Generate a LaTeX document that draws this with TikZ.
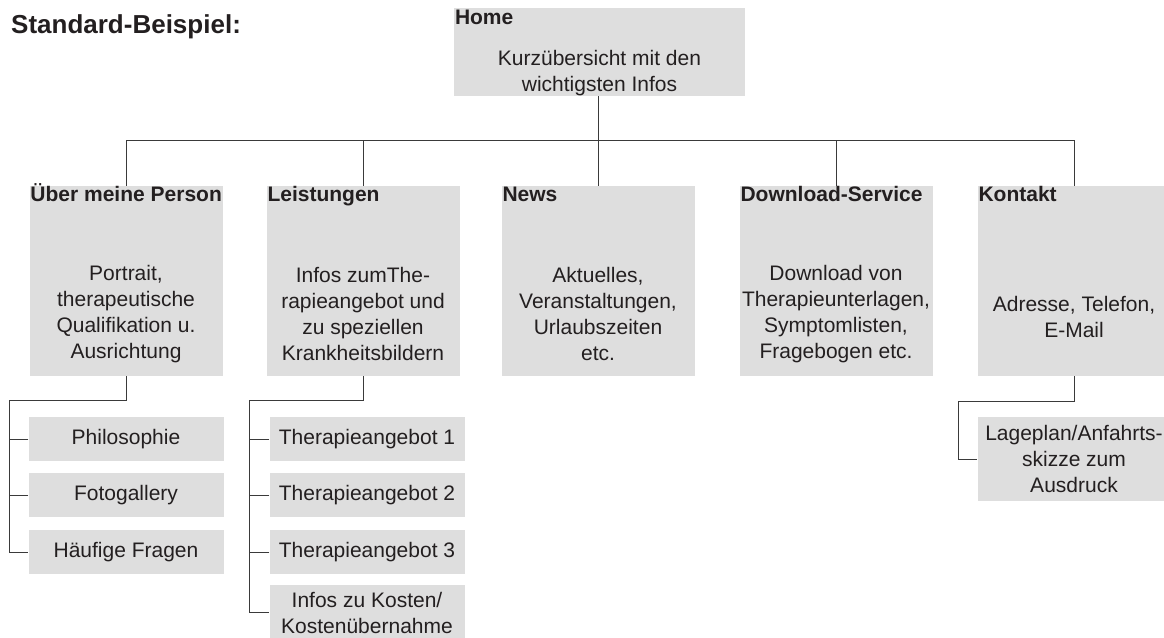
\documentclass[tikz,border=0pt]{standalone}
\usepackage{fontspec}
\setmainfont{Liberation Sans}
\definecolor{boxgray}{HTML}{DEDEDE}
\definecolor{linegray}{HTML}{3A3A3A}
\definecolor{textdark}{HTML}{231F20}

\begin{document}
\begin{tikzpicture}
                \tikzset{x=1pt, y=-1pt}
                \tikzstyle{box}=[rectangle, fill=boxgray, inner sep=0pt, text=textdark, align=center, font=\fontsize{21}{26}\selectfont, minimum width=193pt, minimum height=190pt]
                \tikzstyle{sub}=[box, minimum width=195pt, minimum height=44pt]
                \tikzstyle{head}=[anchor=base west, inner sep=0pt, text=textdark, font=\fontsize{21}{26}\selectfont\bfseries]
                \tikzstyle{txt}=[align=center, inner sep=0pt, text=textdark, font=\fontsize{21}{26}\selectfont]
                \tikzstyle{link}=[draw=linegray, line width=1pt]

                \useasboundingbox (0, 0) rectangle (1164, 637);

                \draw (11, 33)      node[anchor=base west, inner sep=0pt, text=textdark, font=\fontsize{26}{31}\selectfont\bfseries] (title) {Standard-Beispiel:};

                % Startseite
                \draw (599.5, 52)   node[box, minimum width=291pt, minimum height=88pt] (home) {};
                \draw ([xshift=1pt, yshift=-17pt]home.north west) node[head] (homeh) {Home};
                \draw (599.5, 73)   node[txt]   (homeb) {Kurzübersicht mit den\\wichtigsten Infos};

                % Hauptrubriken
                \draw (126, 281)    node[box]   (pers)  {};
                \draw (363, 281)    node[box]   (leist) {};
                \draw (598, 281)    node[box]   (news)  {};
                \draw (836, 281)    node[box]   (down)  {};
                \draw (1074, 281)   node[box]   (kont)  {};

                \draw ([xshift=1pt, yshift=-16pt]pers.north west)  node[head] (persh)  {Über meine Person};
                \draw ([xshift=1pt, yshift=-16pt]leist.north west) node[head] (leisth) {Leistungen};
                \draw ([xshift=1pt, yshift=-16pt]news.north west)  node[head] (newsh)  {News};
                \draw ([xshift=1pt, yshift=-16pt]down.north west)  node[head] (downh)  {Download-Service};
                \draw ([xshift=1pt, yshift=-16pt]kont.north west)  node[head] (konth)  {Kontakt};

                \draw (126, 314)    node[txt]   (persb)  {Portrait,\\therapeutische\\Qualifikation u.\\Ausrichtung};
                \draw (363, 314)    node[txt]   (leistb) {Infos zumThe-\\rapieangebot und\\zu speziellen\\Krankheitsbildern};
                \draw (598, 314)    node[txt]   (newsb)  {Aktuelles,\\Veranstaltungen,\\Urlaubszeiten\\etc.};
                \draw (836, 314)    node[txt]   (downb)  {Download von\\Therapieunterlagen,\\Symptomlisten,\\Fragebogen etc.};
                \draw (1074, 317)   node[txt]   (kontb)  {Adresse, Telefon,\\E-Mail};

                % Unterseiten
                \draw (126, 439)    node[sub]   (philo)  {Philosophie};
                \draw (126, 495)    node[sub]   (foto)   {Fotogallery};
                \draw (126, 552)    node[sub]   (fragen) {Häufige Fragen};

                \draw (367, 439)    node[sub]   (ta1)    {Therapieangebot 1};
                \draw (367, 495)    node[sub]   (ta2)    {Therapieangebot 2};
                \draw (367, 552)    node[sub]   (ta3)    {Therapieangebot 3};
                \draw (367, 612.5)  node[sub, minimum height=55pt] (kosten) {Infos zu Kosten/\\Kostenübernahme};

                \draw (1074, 459)   node[sub, minimum width=193pt, minimum height=84pt] (lage) {Lageplan/Anfahrts-\\skizze zum\\Ausdruck};

                % Verbindungen
                \coordinate (bus) at (0, 140);
                \draw [link] (home.south -| news.north) -- (news.north);
                \draw [link] (pers.north) |- (bus -| kont.north) -- (kont.north);
                \draw [link] (leist.north) -- (leist.north |- bus);
                \draw [link] (down.north) -- (down.north |- bus);

                \draw [link] (pers.south) -- ++(0, 24) -| ([xshift=-19pt]fragen.west) -- (fragen.west);
                \draw [link] (philo.west) -- ++(-19, 0);
                \draw [link] (foto.west) -- ++(-19, 0);

                \draw [link] (leist.south) -- ++(0, 24) -| ([xshift=-20pt]kosten.west) -- (kosten.west);
                \draw [link] (ta1.west) -- ++(-20, 0);
                \draw [link] (ta2.west) -- ++(-20, 0);
                \draw [link] (ta3.west) -- ++(-20, 0);

                \draw [link] (kont.south) -- ++(0, 25) -| ([xshift=-19pt]lage.west) -- (lage.west);
            \end{tikzpicture}
\end{document}
